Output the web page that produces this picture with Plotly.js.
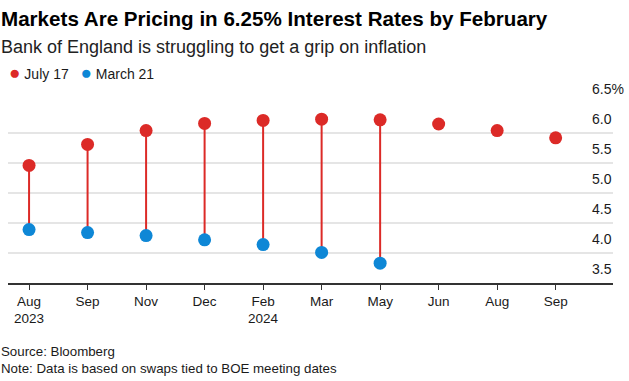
<!DOCTYPE html>
<html>
<head>
<meta charset="utf-8">
<script src="https://cdn.plot.ly/plotly-3.0.1.min.js"></script>
<style>html,body{margin:0;padding:0;background:#fff;}#chart{width:629px;height:381px;}</style>
</head>
<body>
<div id="chart"></div>
<script>
const tickLabels = ["Aug<br>2023","Sep","Nov","Dec","Feb<br>2024","Mar","May","Jun","Aug","Sep"];
const seriesNames = ["July 17", "March 21"];
const july17 = [5.46, 5.81, 6.04, 6.16, 6.21, 6.23, 6.22, 6.15, 6.04, 5.92];
const march21 = [4.39, 4.34, 4.29, 4.22, 4.14, 4.01, 3.83, null, null, null];
const yTickVals = [3.5, 4.0, 4.5, 5.0, 5.5, 6.0, 6.5];
const yTickText = ["3.5","4.0","4.5","5.0","5.5","6.0","6.5%"];

const RED = "#dc2a27", BLUE = "#0e87d6";
const xIdx = tickLabels.map((_, i) => i);

const stemX = [], stemY = [];
xIdx.forEach(i => {
  if (march21[i] != null) { stemX.push(i, i, null); stemY.push(july17[i], march21[i], null); }
});

const traces = [
  {x: stemX, y: stemY, mode: "lines", line: {color: RED, width: 2}, showlegend: false, hoverinfo: "skip"},
  {x: xIdx, y: july17, name: seriesNames[0], mode: "markers", marker: {color: RED, size: 13}, showlegend: false},
  {x: xIdx, y: march21, name: seriesNames[1], mode: "markers", marker: {color: BLUE, size: 13}, showlegend: false}
];

const font = "Liberation Sans, Arial, sans-serif";
const dot = c => '<span style="color:' + c + ';font-size:19px">\u25CF</span>';
const legendText = dot(RED) + ' ' + seriesNames[0] + '&nbsp;&nbsp;&nbsp;' + dot(BLUE) + ' ' + seriesNames[1];

const layout = {
  width: 629, height: 381,
  margin: {l: 8, r: 16, t: 103, b: 98},
  paper_bgcolor: "#fff", plot_bgcolor: "#fff",
  font: {family: font, color: "#1a1a1a", size: 13},
  showlegend: false,
  xaxis: {range: [-0.36, 9.98], tickvals: xIdx, ticktext: tickLabels, showgrid: false, zeroline: false,
          showline: true, linecolor: "#333", linewidth: 1.5, ticks: "outside", ticklen: 5, tickcolor: "#333",
          tickfont: {size: 13.5, color: "#1a1a1a"}, fixedrange: true},
  yaxis: {range: [3.5, 6.5], side: "right", tickvals: yTickVals, ticktext: yTickText, showgrid: true,
          gridcolor: "#e5e5e5", gridwidth: 1.5, zeroline: false, showline: false, ticks: "",
          ticklabelposition: "outside", ticklabelstandoff: -22, ticklabelshift: -14,
          tickfont: {size: 14, color: "#1a1a1a"}, fixedrange: true},
  annotations: [
    {text: "<b>Markets Are Pricing in 6.25% Interest Rates by February</b>", xref: "paper", yref: "paper",
     x: 0, y: 1, xshift: -9, yshift: 85, xanchor: "left", yanchor: "middle", showarrow: false,
     font: {size: 20.6, color: "#000", family: font}},
    {text: "Bank of England is struggling to get a grip on inflation", xref: "paper", yref: "paper",
     x: 0, y: 1, xshift: -9, yshift: 56, xanchor: "left", yanchor: "middle", showarrow: false,
     font: {size: 18, color: "#222", family: font}},
    {text: legendText, xref: "paper", yref: "paper",
     x: 0, y: 1, xshift: -1, yshift: 31, xanchor: "left", yanchor: "middle", showarrow: false,
     font: {size: 14, color: "#1a1a1a", family: font}},
    {text: "Source: Bloomberg<br>Note: Data is based on swaps tied to BOE meeting dates", xref: "paper", yref: "paper",
     x: 0, y: 0, xshift: -9, yshift: -77, xanchor: "left", yanchor: "middle", align: "left", showarrow: false,
     font: {size: 13.3, color: "#1a1a1a", family: font}}
  ]
};

Plotly.newPlot("chart", traces, layout, {displayModeBar: false, staticPlot: true});
</script>
</body>
</html>
